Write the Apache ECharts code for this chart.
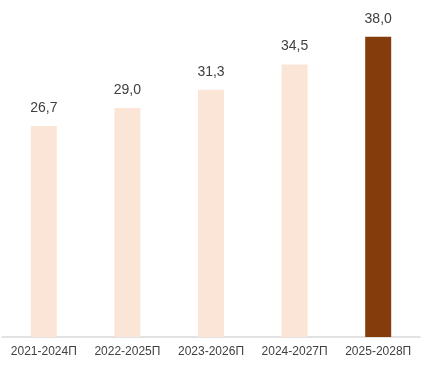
<!DOCTYPE html>
<html>
<head>
<meta charset="utf-8">
<script src="https://cdn.jsdelivr.net/npm/echarts@6/dist/echarts.min.js"></script>
<style>
  html, body { margin: 0; padding: 0; background: #fff; }
  #chart { width: 432px; height: 376px; }
</style>
</head>
<body>
<div id="chart"></div>
<script>
// периоды прогноза
var periods = ['2021-2024П', '2022-2025П', '2023-2026П', '2024-2027П', '2025-2028П'];
var values = [26.7, 29.0, 31.3, 34.5, 38.0];
var highlightIndex = 4;

var chart = echarts.init(document.getElementById('chart'), null, { renderer: 'canvas' });

var option = {
  animation: false,
  grid: { left: 2, right: 12, top: 21, bottom: 39, containLabel: false },
  xAxis: {
    type: 'category',
    data: periods,
    axisLine: { lineStyle: { color: '#d9d9d9', width: 1.5 } },
    axisTick: { show: false },
    axisLabel: {
      color: '#404040',
      fontFamily: 'Liberation Sans, Arial, sans-serif',
      fontSize: 12,
      margin: 9,
      interval: 0
    }
  },
  yAxis: {
    type: 'value',
    min: 0,
    max: 40,
    show: false,
    splitLine: { show: false }
  },
  series: [{
    type: 'bar',
    barWidth: 26,
    data: values.map(function (v, i) {
      return {
        value: v,
        itemStyle: { color: i === highlightIndex ? '#843c0c' : '#fbe5d6' }
      };
    }),
    label: {
      show: true,
      position: 'top',
      distance: 11,
      color: '#404040',
      fontFamily: 'Liberation Sans, Arial, sans-serif',
      fontSize: 14,
      formatter: function (p) { return p.value.toFixed(1).replace('.', ','); }
    }
  }]
};
chart.setOption(option);
</script>
</body>
</html>
